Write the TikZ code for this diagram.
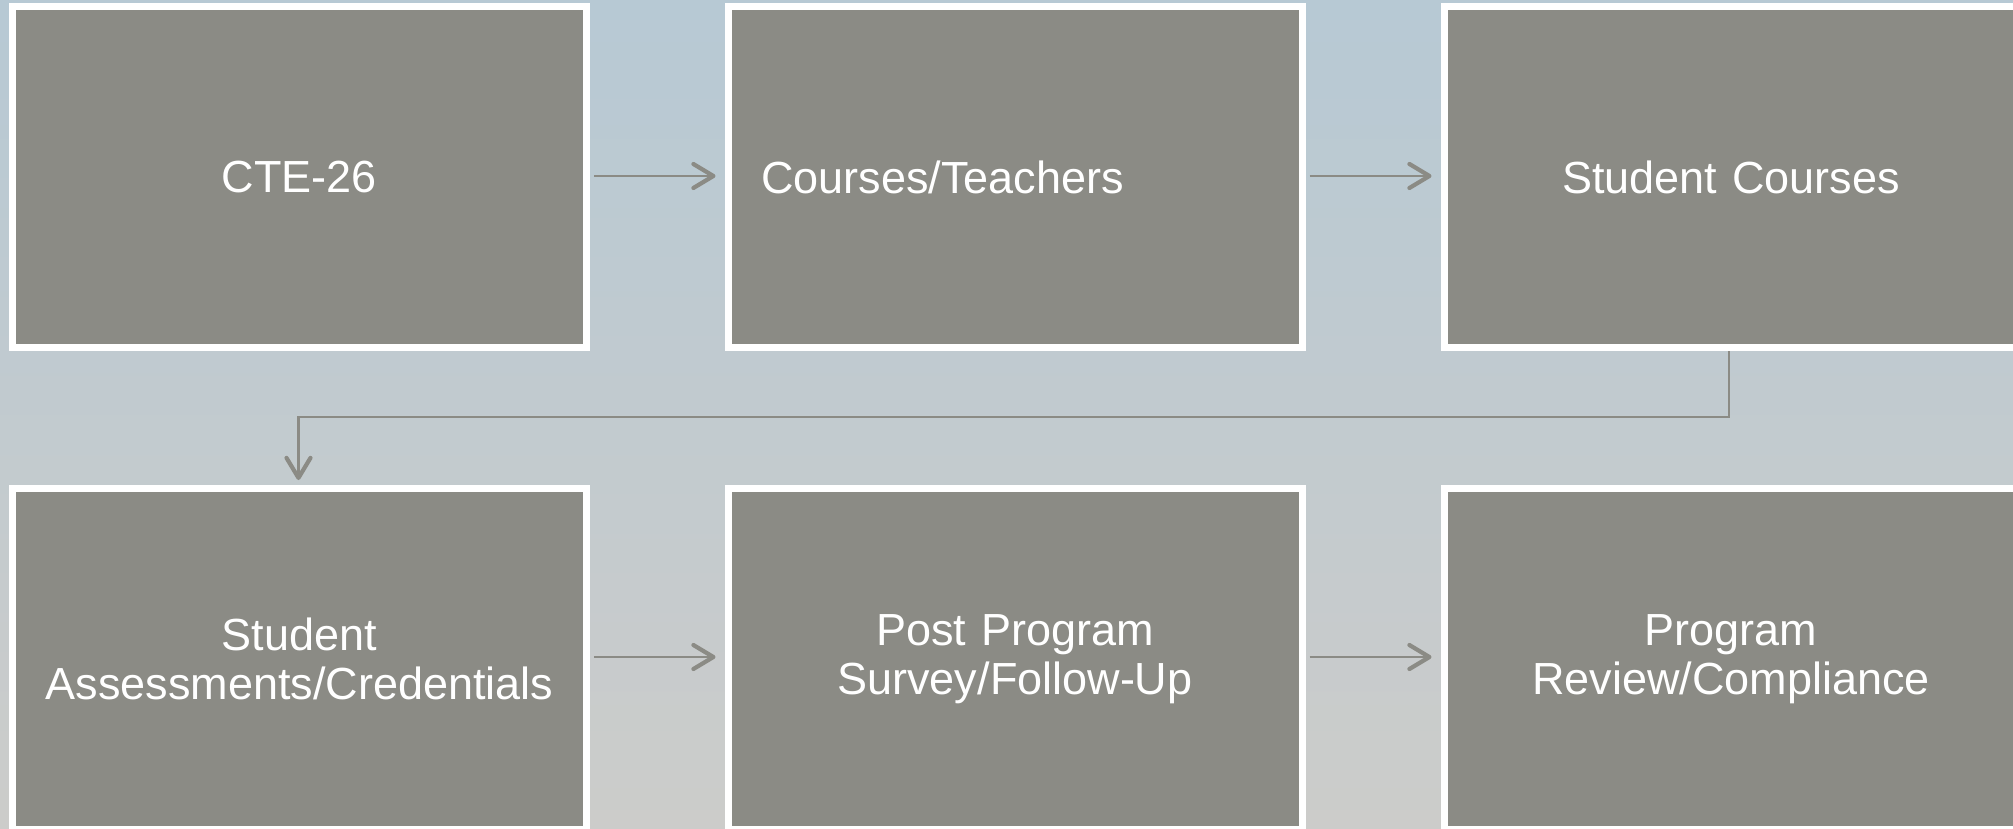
\documentclass[tikz,border=0pt]{standalone}
\usepackage{fontspec}
\setmainfont{Liberation Sans}
\usetikzlibrary{arrows.meta}
\definecolor{boxgray}{RGB}{139,139,133}
\definecolor{bgtop}{RGB}{183,201,212}
\definecolor{bgbot}{RGB}{204,204,202}
\tikzset{
  box/.style={draw=white, line width=7pt, fill=boxgray, minimum height=341pt,
    inner ysep=0pt, inner xsep=8pt, text width=558pt, align=center,
    text=white, font=\fontsize{45}{49}\selectfont},
  boxleft/.style={box, inner xsep=33pt, text width=508pt, align=left},
  conn/.style={draw=boxgray, line width=2.2pt,
    -{Straight Barb[length=20pt,width=24pt,line width=4.2pt,round]}}
}
\begin{document}
\begin{tikzpicture}[x=1pt,y=-1pt]
\useasboundingbox (0,0) rectangle (2013,829);
\clip (0,0) rectangle (2013,829);
\shade[top color=bgtop, bottom color=bgbot] (0,0) rectangle (2013,829);
\node[box] (a) at (299.5,177) {CTE-26};
\node[boxleft] (b) at (1015,177) {Courses/Teachers};
\node[box] (c) at (1731,177) {Student Courses};
\node[box] (d) at (299.5,659) {Student\\Assessments/Credentials};
\node[box] (e) at (1015,659) {Post Program\\Survey/Follow-Up};
\node[box] (f) at (1731,659) {Program\\Review/Compliance};
\coordinate (cb) at (1729,351);
\coordinate (dt) at (298.5,480);
\draw[conn] ([xshift=4pt,yshift=1pt]a.east) -- ([xshift=-9pt,yshift=1pt]b.west);
\draw[conn] ([xshift=4pt,yshift=1pt]b.east) -- ([xshift=-9pt,yshift=1pt]c.west);
\draw[conn] ([xshift=4pt,yshift=2pt]d.east) -- ([xshift=-9pt,yshift=2pt]e.west);
\draw[conn] ([xshift=4pt,yshift=2pt]e.east) -- ([xshift=-9pt,yshift=2pt]f.west);
\draw[conn] (cb) -- (1729,417) -- (298.5,417) -- (dt);
\end{tikzpicture}
\end{document}
